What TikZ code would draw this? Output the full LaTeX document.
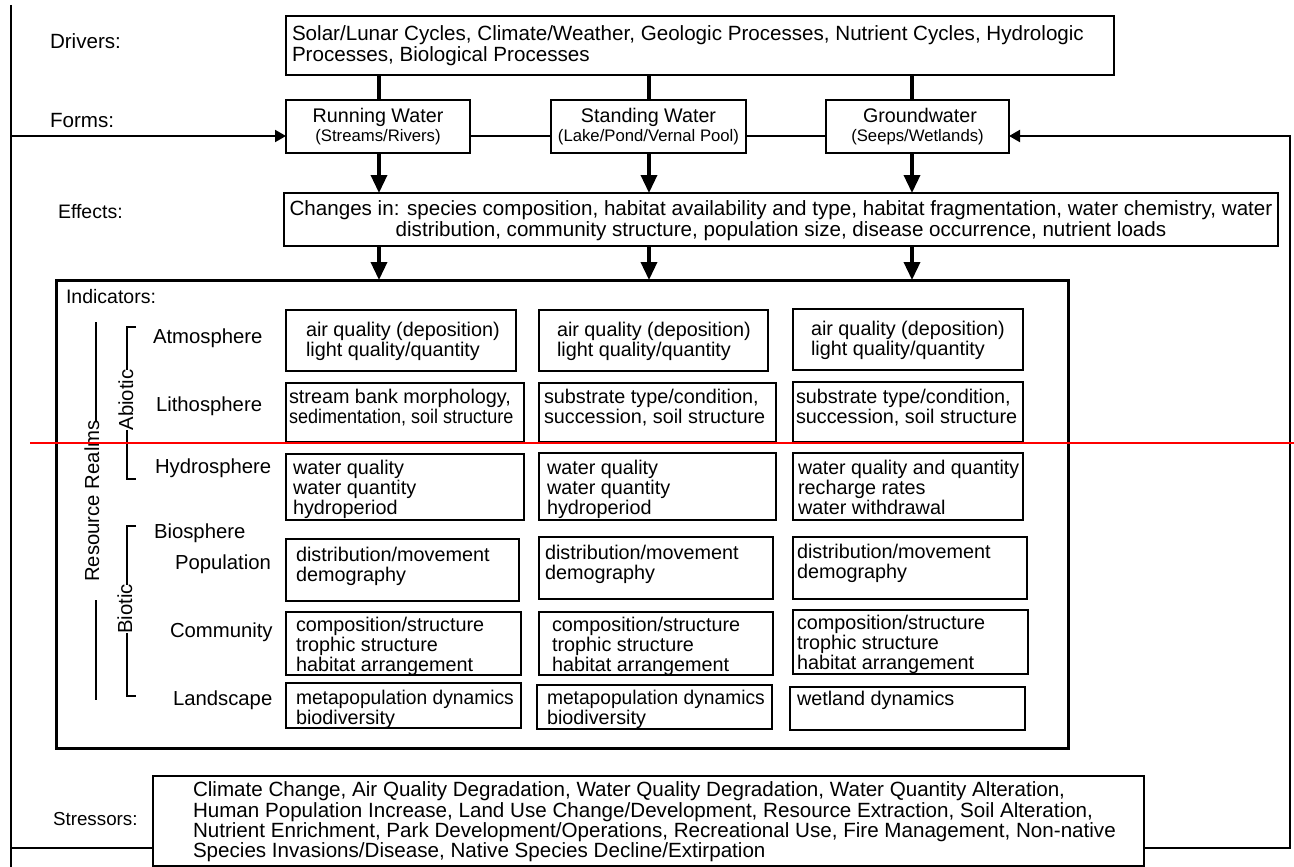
\documentclass[tikz,border=0pt]{standalone}
\usepackage{graphicx}
\usepackage{fontspec}
\setmainfont{Liberation Sans}
\usetikzlibrary{arrows.meta}
\newcommand\mainsize{\fontsize{19.5}{20.3}\selectfont}
\newcommand\cellsize{\fontsize{19.8}{20.3}\selectfont}
\newcommand\longsize{\fontsize{20.6}{20.3}\selectfont}
\newcommand\rowsize{\fontsize{20.3}{20.3}\selectfont}
\newcommand\subsize{\fontsize{16.7}{19}\selectfont}
\newcommand\squeeze[2]{\scalebox{#1}[1]{#2}}
\begin{document}
\begin{tikzpicture}[x=1pt,y=-1pt,
  every node/.style={inner sep=0pt,outer sep=0pt},
  frame/.style={draw,line width=1.3pt,anchor=north west},
  bigframe/.style={draw,line width=3pt,anchor=north west},
  txt/.style={font=\mainsize,align=left,anchor=north west,yshift=14.21pt,execute at begin node=\strut},
  celltxt/.style={txt,font=\cellsize},
  longtxt/.style={txt,font=\longsize},
  rowtxt/.style={txt,font=\rowsize},
  ctxt/.style={txt,font=\fontsize{19.7}{20.3}\selectfont,align=center,anchor=north},
  subt/.style={font=\subsize,align=center,anchor=north,yshift=13.3pt,execute at begin node=\strut},
  realm/.style={font=\rowsize,rotate=90,anchor=base},
  stem/.style={line width=3.5pt},
  shaft/.style={line width=3.5pt,-{Triangle[length=18pt,width=16pt]}},
  loopline/.style={line width=2.2pt},
  looparrow/.style={line width=2pt,-{Triangle[length=11pt,width=12pt]}},
  link/.style={line width=1.3pt},
  bracket/.style={line width=1.3pt}
]
\useasboundingbox (0,0) rectangle (1294,867);

% ---- row labels on the left
\node[txt,font=\fontsize{20.6}{20.3}\selectfont] (lDrivers) at (50,48) {Drivers:};
\node[txt,font=\fontsize{20.6}{20.3}\selectfont] (lForms) at (50,127) {Forms:};
\node[txt] (lEffects) at (58,218) {Effects:};
\node[txt,font=\fontsize{18.8}{20.3}\selectfont] (lStress) at (53,825) {Stressors:};

% ---- drivers
\node[frame,minimum width=828pt,minimum height=59pt] (drv) at (286,16) {};
\node[longtxt] (drvt) at (292,40) {Solar/Lunar Cycles, Climate/Weather, Geologic Processes, Nutrient Cycles, Hydrologic\\Processes, Biological Processes};

% ---- forms
\node[frame,minimum width=184pt,minimum height=53pt] (run) at (286,100) {};
\node[frame,minimum width=195pt,minimum height=53pt] (stand) at (551,100) {};
\node[frame,minimum width=183pt,minimum height=53pt] (ground) at (826,100) {};
\node[ctxt] (runt) at (378,122) {Running Water};
\node[subt] (runs) at (378,141) {(Streams/Rivers)};
\node[ctxt] (standt) at (648.5,122) {Standing Water};
\node[subt] (stands) at (648.5,141) {(Lake/Pond/Vernal Pool)};
\node[ctxt] (groundt) at (920,122) {Groundwater};
\node[subt] (grounds) at (917.5,141) {(Seeps/Wetlands)};

% ---- effects
\node[frame,minimum width=994pt,minimum height=53pt] (eff) at (284,193) {};
\node[ctxt,font=\longsize] (efft) at (781,215) {Changes in: species composition, habitat availability and type, habitat fragmentation, water chemistry, water\\distribution, community structure, population size, disease occurrence, nutrient loads};

% ---- indicators
\node[bigframe,minimum width=1012pt,minimum height=468pt] (ind) at (56,280) {};
\node[txt] (indt) at (66,303) {Indicators:};

% realm labels
\node[rowtxt] (rAtm) at (153,343) {Atmosphere};
\node[rowtxt] (rLit) at (156,411) {Lithosphere};
\node[rowtxt] (rHyd) at (155,473) {Hydrosphere};
\node[rowtxt] (rBio) at (154,538) {Biosphere};
\node[rowtxt] (rPop) at (175,569) {Population};
\node[rowtxt] (rCom) at (170,637) {Community};
\node[rowtxt] (rLan) at (173,705) {Landscape};

% brackets
\draw[bracket] (96,322) -- (96,421);
\draw[bracket] (96,600) -- (96,700);
\node[realm] (grpRealms) at (99,501) {Resource Realms};
\draw[bracket] (136,327) -- (127,327) -- (127,370);
\draw[bracket] (127,430) -- (127,479) -- (136,479);
\node[realm] (grpAbiotic) at (133,400) {Abiotic};
\draw[bracket] (136,526) -- (127,526) -- (127,585);
\draw[bracket] (127,633) -- (127,696) -- (136,696);
\node[realm] (grpBiotic) at (132,609) {Biotic};

% indicator cells: atmosphere
\node[frame,minimum width=230pt,minimum height=61pt] (c11) at (286,310) {};
\node[frame,minimum width=229pt,minimum height=61pt] (c12) at (539,310) {};
\node[frame,minimum width=230pt,minimum height=61pt] (c13) at (793,309) {};
\node[celltxt] at (306,336) {air quality (deposition)\\light quality/quantity};
\node[celltxt] at (557,336) {air quality (deposition)\\light quality/quantity};
\node[celltxt] at (811,335) {air quality (deposition)\\light quality/quantity};
% lithosphere
\node[frame,minimum width=238pt,minimum height=59pt] (c21) at (286,383) {};
\node[frame,minimum width=237pt,minimum height=59pt] (c22) at (539,383) {};
\node[frame,minimum width=230pt,minimum height=60pt] (c23) at (793,382) {};
\node[celltxt] at (289,403) {stream bank morphology,\\\squeeze{0.91}{sedimentation, soil structure}};
\node[celltxt] at (544,403) {substrate type/condition,\\succession, soil structure};
\node[celltxt] at (796,403) {substrate type/condition,\\succession, soil structure};
% hydrosphere
\node[frame,minimum width=238pt,minimum height=66pt] (c31) at (286,454) {};
\node[frame,minimum width=237pt,minimum height=67pt] (c32) at (539,453) {};
\node[frame,minimum width=230pt,minimum height=67pt] (c33) at (793,453) {};
\node[celltxt] at (293,474) {water quality\\water quantity\\hydroperiod};
\node[celltxt] at (547,474) {water quality\\water quantity\\hydroperiod};
\node[celltxt] at (798,474) {\squeeze{0.985}{water quality and quantity}\\recharge rates\\water withdrawal};
% population
\node[frame,minimum width=233pt,minimum height=62pt] (c41) at (286,539) {};
\node[frame,minimum width=234pt,minimum height=62pt] (c42) at (539,537) {};
\node[frame,minimum width=234pt,minimum height=62pt] (c43) at (793,537) {};
\node[celltxt] at (296,561) {distribution/movement\\demography};
\node[celltxt] at (545,559) {distribution/movement\\demography};
\node[celltxt] at (797,558) {distribution/movement\\demography};
% community
\node[frame,minimum width=235pt,minimum height=63pt] (c51) at (286,612) {};
\node[frame,minimum width=234pt,minimum height=63pt] (c52) at (539,612) {};
\node[frame,minimum width=235pt,minimum height=64pt] (c53) at (793,610) {};
\node[celltxt] at (296,631) {composition/structure\\trophic structure\\habitat arrangement};
\node[celltxt] at (552,631) {composition/structure\\trophic structure\\habitat arrangement};
\node[celltxt] at (797,629) {composition/structure\\trophic structure\\habitat arrangement};
% landscape
\node[frame,minimum width=235pt,minimum height=45pt] (c61) at (286,683) {};
\node[frame,minimum width=235pt,minimum height=44pt] (c62) at (537,685) {};
\node[frame,minimum width=235pt,minimum height=43pt] (c63) at (790,687) {};
\node[celltxt] at (296,704) {\squeeze{0.97}{metapopulation dynamics}\\biodiversity};
\node[celltxt] at (547,704) {\squeeze{0.97}{metapopulation dynamics}\\biodiversity};
\node[celltxt] at (797,705) {wetland dynamics};

% ---- stressors
\node[frame,minimum width=991pt,minimum height=90pt] (str) at (153,776) {};
\node[longtxt] (strt) at (193,796) {Climate Change, Air Quality Degradation, Water Quality Degradation, Water Quantity Alteration,\\Human Population Increase, Land Use Change/Development, Resource Extraction, Soil Alteration,\\Nutrient Enrichment, Park Development/Operations, Recreational Use, Fire Management, Non-native\\Species Invasions/Disease, Native Species Decline/Extirpation};

% ---- connectors
\coordinate (k1) at (379,0);
\coordinate (k2) at (649,0);
\coordinate (k3) at (912,0);
\draw[stem] (drv.south -| k1) -- (run.north -| k1);
\draw[stem] (drv.south -| k2) -- (stand.north -| k2);
\draw[stem] (drv.south -| k3) -- (ground.north -| k3);
\draw[shaft] (run.south -| k1) -- (eff.north -| k1);
\draw[shaft] (stand.south -| k2) -- (eff.north -| k2);
\draw[shaft] (ground.south -| k3) -- (eff.north -| k3);
\draw[shaft] (eff.south -| k1) -- (ind.north -| k1);
\draw[shaft] (eff.south -| k2) -- (ind.north -| k2);
\draw[shaft] (eff.south -| k3) -- (ind.north -| k3);

\coordinate (fy) at (0,136);
\coordinate (sy) at (0,848);
\coordinate (lt) at (11,5);
\coordinate (lb) at (11,867);
\coordinate (rt) at (1290,136);
\coordinate (rb) at (1290,848);
\draw[link] (run.east |- fy) -- (stand.west |- fy);
\draw[link] (stand.east |- fy) -- (ground.west |- fy);
\draw[loopline] (lt) -- (lb);
\draw[looparrow] (lt |- fy) -- (run.west |- fy);
\draw[loopline] (lb |- sy) -- (str.west |- sy);
\draw[looparrow] (str.east |- sy) -- (rb) -- (rt) -- (ground.east |- fy);

% ---- red rule
\coordinate (ra) at (30,443);
\coordinate (rz) at (1294,443);
\draw[red,line width=1.5pt] (ra) -- (rz);
\end{tikzpicture}
\end{document}
